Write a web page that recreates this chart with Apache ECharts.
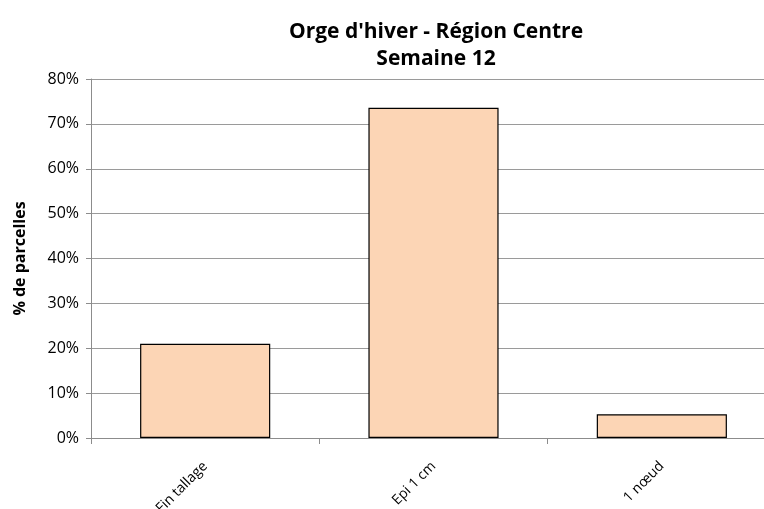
<!DOCTYPE html>
<html>
<head>
<meta charset="utf-8">
<script src="https://cdn.jsdelivr.net/npm/echarts@6/dist/echarts.min.js"></script>
<style>
  html, body { margin: 0; padding: 0; background: #fff; }
  #chart { width: 764px; height: 509px; }
</style>
</head>
<body>
<div id="chart"></div>
<script>
var categories = ['Fin tallage', 'Epi 1 cm', '1 nœud'];
var values = [21.0, 73.6, 5.3];
var yTicks = [0, 10, 20, 30, 40, 50, 60, 70, 80];

document.addEventListener('DOMContentLoaded', function(){
  var chart = echarts.init(document.getElementById('chart'));
  var font = '"Open Sans", "Liberation Sans", sans-serif';
  chart.setOption({
    backgroundColor: '#fff',
    animation: false,
    title: {
      text: "Orge d'hiver - Région Centre\nSemaine 12",
      left: 431,
      textAlign: 'center',
      top: 14,
      textStyle: { fontFamily: font, fontWeight: 'bold', fontSize: 21, lineHeight: 27, color: '#000' }
    },
    grid: { left: 91, right: -12, top: 79, bottom: 71, outerBoundsMode: 'none' },
    xAxis: {
      type: 'category',
      data: categories,
      axisLine: { lineStyle: { color: '#8c8c8c' } },
      axisTick: { show: true, length: 6, lineStyle: { color: '#8c8c8c' } },
      axisLabel: { rotate: 45, color: '#000', fontFamily: font, fontSize: 14, margin: 26 }
    },
    yAxis: {
      type: 'value',
      min: yTicks[0],
      max: yTicks[yTicks.length - 1],
      interval: 10,
      name: '% de parcelles',
      nameLocation: 'middle',
      nameGap: 63,
      nameTextStyle: { fontFamily: font, fontWeight: 'bold', fontSize: 16, color: '#000' },
      axisLine: { show: true, lineStyle: { color: '#8c8c8c' } },
      axisTick: { show: true, length: 5, inside: false, lineStyle: { color: '#8c8c8c' } },
      axisLabel: { formatter: '{value}%', color: '#000', fontFamily: font, fontSize: 16, margin: 12 },
      splitLine: { lineStyle: { color: '#9a9a9a' } }
    },
    series: [{
      type: 'bar',
      data: values,
      barWidth: '57%',
      itemStyle: { color: '#FCD5B5', borderColor: '#000', borderWidth: 1.2 }
    }]
  });
});
</script>
</body>
</html>
